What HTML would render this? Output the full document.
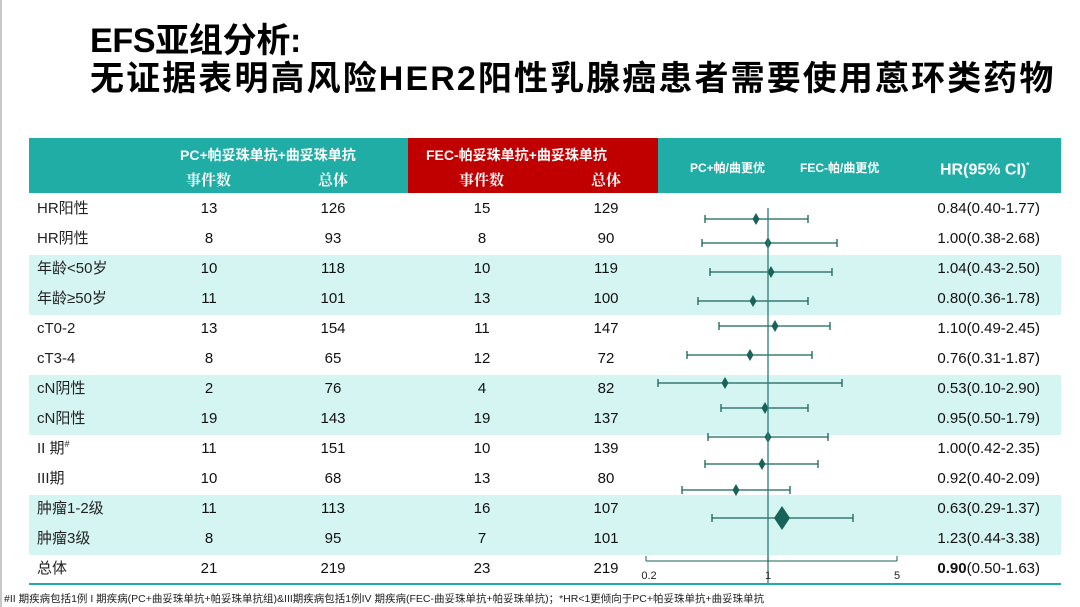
<!DOCTYPE html>
<html><head><meta charset="utf-8"><style>
body{margin:0;width:1080px;height:607px;background:#fff;position:relative;overflow:hidden;font-family:"Liberation Sans","Noto Sans CJK SC",sans-serif;}
.a{position:absolute;white-space:nowrap}
.t{font-size:34px;font-weight:bold;color:#000;left:90px;line-height:40px;font-family:"Liberation Sans","Noto Sans CJK SC",sans-serif}
.c{position:absolute;width:80px;text-align:center;font-size:15px;color:#111;line-height:20px;height:20px}
.l{position:absolute;left:37px;font-size:15px;color:#222;line-height:20px;height:20px;white-space:nowrap}
.h{position:absolute;right:40px;font-size:15px;color:#111;line-height:20px;height:20px}
.hd{color:#fff;font-weight:bold;font-size:14px;position:absolute;white-space:nowrap;line-height:18px}
.sv{font-family:"Liberation Serif","Noto Serif CJK SC",serif;font-size:15px}
</style></head><body>
<div class="a" style="left:0;top:0;width:2px;height:607px;background:#c8c8c8"></div>
<div class="a t" style="top:21px;letter-spacing:-0.3px">EFS亚组分析:</div>
<div class="a t" style="top:59px;letter-spacing:2.1px">无证据表明高风险HER2阳性乳腺癌患者需要使用蒽环类药物</div>
<div class="a" style="left:29px;top:138px;width:1032px;height:55px;background:#20ADA5"></div>
<div class="a" style="left:408px;top:138px;width:250px;height:55px;background:#C00000"></div>
<div class="hd" style="left:180px;top:146px">PC+帕妥珠单抗+曲妥珠单抗</div>
<div class="hd sv" style="left:186px;top:172px">事件数</div>
<div class="hd sv" style="left:318px;top:172px">总体</div>
<div class="hd" style="left:426px;top:146px">FEC-帕妥珠单抗+曲妥珠单抗</div>
<div class="hd sv" style="left:459px;top:172px">事件数</div>
<div class="hd sv" style="left:591px;top:172px">总体</div>
<div class="hd" style="left:690px;top:159px;font-size:12px">PC+帕/曲更优</div>
<div class="hd" style="left:800px;top:159px;font-size:12px">FEC-帕/曲更优</div>
<div class="hd" style="left:940px;top:157px;font-size:16px">HR(95% CI)<sup style="font-size:8px">*</sup></div>
<div class="a" style="left:29px;top:255px;width:1032px;height:60px;background:#D5F5F3"></div>
<div class="a" style="left:29px;top:375px;width:1032px;height:60px;background:#D5F5F3"></div>
<div class="a" style="left:29px;top:495px;width:1032px;height:60px;background:#D5F5F3"></div>
<div class="a" style="left:29px;top:583px;width:1032px;height:2px;background:#20ADA5"></div>
<div id="rows"></div>
<svg class="a" style="left:0;top:0" width="1080" height="607">
<g stroke="#17635A" stroke-width="1.3" fill="#17635A" id="f"></g>
<line x1="768" y1="208" x2="768" y2="583" stroke="#2E7D75" stroke-width="1.3"/>
<g stroke="#17635A" stroke-width="1">
<line x1="646" y1="561" x2="897" y2="561"/><line x1="646" y1="561" x2="646" y2="556"/><line x1="768" y1="561" x2="768" y2="556"/><line x1="897" y1="561" x2="897" y2="556"/>
</g>
<g font-size="11" fill="#222" text-anchor="middle" font-family="Liberation Sans,sans-serif">
<text x="649" y="579">0.2</text><text x="768" y="579">1</text><text x="897" y="579">5</text></g>
</svg>
<div class="a" style="left:4px;top:591px;font-size:10.5px;color:#222">#II 期疾病包括1例 I 期疾病(PC+曲妥珠单抗+帕妥珠单抗组)&amp;III期疾病包括1例IV 期疾病(FEC-曲妥珠单抗+帕妥珠单抗)；*HR&lt;1更倾向于PC+帕妥珠单抗+曲妥珠单抗</div>
<script>
var d=[["HR阳性",13,126,15,129,"0.84(0.40-1.77)",705,808,756,219],
["HR阴性",8,93,8,90,"1.00(0.38-2.68)",702,837,768,243],
["年龄&lt;50岁",10,118,10,119,"1.04(0.43-2.50)",710,832,771,272],
["年龄≥50岁",11,101,13,100,"0.80(0.36-1.78)",698,808,753,301],
["cT0-2",13,154,11,147,"1.10(0.49-2.45)",719,830,775,326],
["cT3-4",8,65,12,72,"0.76(0.31-1.87)",687,812,750,355],
["cN阴性",2,76,4,82,"0.53(0.10-2.90)",658,842,725,383],
["cN阳性",19,143,19,137,"0.95(0.50-1.79)",721,808,765,408],
["II 期<sup style='font-size:9px;line-height:0'>#</sup>",11,151,10,139,"1.00(0.42-2.35)",708,828,768,437],
["III期",10,68,13,80,"0.92(0.40-2.09)",705,818,762,464],
["肿瘤1-2级",11,113,16,107,"0.63(0.29-1.37)",682,790,736,490],
["肿瘤3级",8,95,7,101,"1.23(0.44-3.38)",712,853,782,518],
["总体",21,219,23,219,"<b>0.90</b>(0.50-1.63)",721,802,760,545]];
var h="",s="";
d.forEach(function(r,i){var y=199+30*i;
h+='<div class="l" style="top:'+y+'px">'+r[0]+'</div>';
[209,333,482,606].forEach(function(x,j){h+='<div class="c" style="left:'+(x-40)+'px;top:'+y+'px">'+r[j+1]+'</div>';});
h+='<div class="h" style="top:'+y+'px">'+r[5]+'</div>';
if(i<12){var yy=r[9];
s+='<line x1="'+r[6]+'" y1="'+yy+'" x2="'+r[7]+'" y2="'+yy+'"/><line x1="'+r[6]+'" y1="'+(yy-4)+'" x2="'+r[6]+'" y2="'+(yy+4)+'"/><line x1="'+r[7]+'" y1="'+(yy-4)+'" x2="'+r[7]+'" y2="'+(yy+4)+'"/>';
var w=i==11?8:3.5,hh=i==11?12:6;
s+='<polygon stroke="none" points="'+(r[8]-w)+','+yy+' '+r[8]+','+(yy-hh)+' '+(r[8]+w)+','+yy+' '+r[8]+','+(yy+hh)+'"/>';}
});
document.getElementById("rows").innerHTML=h;
document.getElementById("f").innerHTML=s;
</script>
</body></html>
